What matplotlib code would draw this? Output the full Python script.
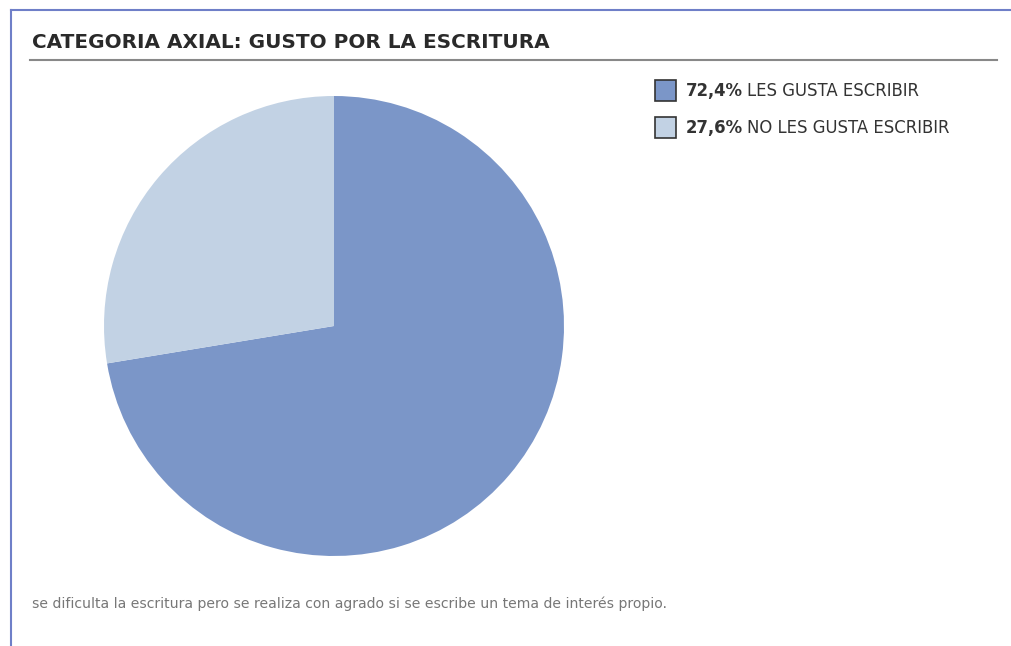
import matplotlib
matplotlib.use("Agg")
import matplotlib.pyplot as plt
from matplotlib.patches import Rectangle
from matplotlib.lines import Line2D

# data
labels = ["LES GUSTA ESCRIBIR", "NO LES GUSTA ESCRIBIR"]
values = [72.4, 27.6]
pct_labels = ["72,4%", "27,6%"]
colors = ["#7b96c8", "#c2d2e4"]

title = "CATEGORIA AXIAL: GUSTO POR LA ESCRITURA"
note = "se dificulta la escritura pero se realiza con agrado si se escribe un tema de interés propio."

W, H = 1011, 646
fig = plt.figure(figsize=(W / 100, H / 100), dpi=100)
fig.patch.set_facecolor("white")


def fx(px):
    return px / W


def fy(py):
    return 1 - py / H


# outer frame (left and top edges)
fig.add_artist(Line2D([fx(11), fx(11)], [fy(10), 0], color="#6f7fc8", lw=1.5))
fig.add_artist(Line2D([fx(11), 1], [fy(10), fy(10)], color="#6f7fc8", lw=1.5))

# title and rule
fig.text(fx(32), fy(43), title, fontsize=14.4, fontweight="bold", color="#2a2a2a",
         va="center", ha="left")
fig.add_artist(Line2D([fx(30), fx(997)], [fy(60), fy(60)], color="#888888", lw=1.5))

# pie
cx, cy, r = 334, 326, 230
ax = fig.add_axes([fx(cx - r), fy(cy + r), 2 * r / W, 2 * r / H])
ax.pie(values, colors=colors, startangle=90, counterclock=False, radius=1,
       wedgeprops=dict(linewidth=0))
ax.set_xlim(-1, 1)
ax.set_ylim(-1, 1)
ax.set_aspect("auto")
ax.axis("off")

# legend
fig.canvas.draw()
renderer = fig.canvas.get_renderer()
for i, (lab, pct, col) in enumerate(zip(labels, pct_labels, colors)):
    ytop = 80 + i * 37
    fig.add_artist(Rectangle((fx(655), fy(ytop + 21)), 21 / W, 21 / H,
                             facecolor=col, edgecolor="#333333", lw=1.2))
    t = fig.text(fx(686), fy(ytop + 16), pct, fontsize=11.9, fontweight="bold",
                 color="#333333", va="baseline", ha="left")
    bb = t.get_window_extent(renderer)
    fig.text(bb.x1 / W + fx(4), fy(ytop + 16), lab, fontsize=11.9,
             color="#333333", va="baseline", ha="left")

# footer note
fig.text(fx(32), fy(604), note, fontsize=10.1, color="#777777", va="center", ha="left")

fig.savefig("out.png", dpi=100)
